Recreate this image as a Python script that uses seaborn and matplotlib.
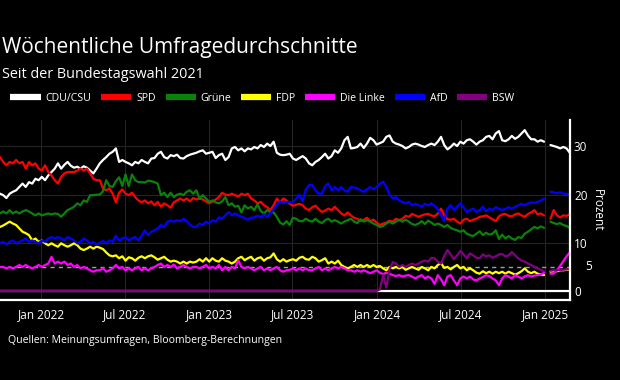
import numpy as np
import pandas as pd
import matplotlib.pyplot as plt
import seaborn as sns
from matplotlib.lines import Line2D

# weekly poll averages since the 2021 federal election (values in percent)
weeks = pd.date_range("2021-10-03", periods=178, freq="7D")
parties = ["CDU/CSU", "SPD", "Grüne", "FDP", "Die Linke", "AfD", "BSW"]
colors = ["#ffffff", "#ff0000", "#0a820a", "#ffff00", "#ff00ff", "#0000ff", "#800080"]
tick_dates = ["2022-01-01", "2022-07-01", "2023-01-01", "2023-07-01",
              "2024-01-01", "2024-07-01", "2025-01-01"]
tick_labels = ["Jan 2022", "Jul 2022", "Jan 2023", "Jul 2023",
               "Jan 2024", "Jul 2024", "Jan 2025"]
nan = np.nan

cdu = [20.2, 19.9, 19.3, 20.2, 20.6, 20.9, 21.6, 22.3, 21.6, 22.6, 22.3, 23.3, 23.0, 23.7, 23.0, 24.0,
       24.7, 25.4, 26.5, 25.4, 26.2, 26.8, 26.0, 25.6, 25.8, 25.4, 25.9, 25.6, 25.0, 24.4, 25.4,
       26.5, 27.2, 27.8, 28.5, 28.9, 29.6, 26.8, 27.2, 26.8, 26.5, 26.1, 26.8, 26.5, 27.2, 26.8,
       26.5, 27.5, 27.6, 28.5, 28.9, 27.8, 27.5, 28.2, 28.0, 28.3, 27.6, 27.5, 28.0, 28.3, 28.5,
       28.7, 29.0, 29.2, 28.5, 28.7, 28.9, 27.6, 28.2, 28.5, 27.2, 27.8, 29.6, 29.9, 29.2, 29.6,
       29.0, 29.6, 29.4, 29.9, 29.6, 30.3, 29.9, 30.6, 30.1, 31.0, 28.7, 28.3, 28.2, 28.3, 28.5,
       27.5, 27.2, 27.6, 28.0, 27.5, 26.5, 26.1, 26.8, 27.2, 27.8, 28.5, 27.5, 28.0, 29.2, 28.7,
       29.6, 31.3, 32.0, 29.6, 29.7, 29.9, 30.6, 29.7, 30.6, 31.8, 31.3, 30.4, 30.7, 31.0,
       32.0, 32.3, 31.0, 30.6, 30.4, 30.1, 29.6, 29.9, 30.4, 30.6, 30.4, 30.1, 29.9, 30.3, 30.6,
       30.3, 31.0, 32.0, 30.3, 29.4, 29.9, 30.6, 30.1, 31.0, 30.6, 31.3, 31.5, 31.0, 30.4, 31.0,
       31.3, 32.0, 32.2, 31.5, 32.7, 33.2, 31.3, 31.1, 31.5, 32.2, 31.6, 32.0, 32.7, 33.4, 32.3,
       31.5, 31.5, 31.0, 31.3, 31.0, nan, 30.3, 30.1, 29.9, 29.6, 29.9, 29.6, 28.7]

spd = [27.8, 26.8, 26.1, 26.8, 26.5, 27.2, 26.5, 26.8, 25.4, 26.8, 26.1, 26.5, 25.4, 25.0, 26.1, 24.7,
       24.0, 23.0, 22.3, 23.7, 24.4, 24.7, 24.7, 24.7, 25.0, 25.4, 25.0, 25.4, 24.4, 23.3, 23.0,
       23.0, 21.3, 20.9, 21.3, 20.2, 18.4, 20.4, 21.1, 20.2, 19.9, 20.4, 19.5, 18.8, 18.4, 18.8,
       18.2, 18.6, 17.8, 18.5, 17.5, 18.2, 17.8, 17.3, 18.4, 18.8, 19.2, 18.8, 19.2, 18.6, 19.3,
       19.0, 19.2, 19.0, 18.6, 18.2, 18.6, 19.0, 19.5, 20.4, 20.0, 19.9, 20.2, 19.9, 19.6, 20.2,
       19.9, 20.2, 19.2, 18.8, 18.2, 18.5, 17.8, 17.4, 16.8, 17.8, 19.2, 18.4, 19.2, 18.8, 18.1,
       17.7, 17.9, 18.1, 17.8, 17.1, 16.8, 17.4, 17.7, 17.0, 16.4, 16.7, 17.1, 16.8, 17.5, 16.8,
       16.1, 15.7, 16.3, 15.7, 15.2, 15.0, 14.5, 14.8, 15.2, 14.5, 14.8, 14.2, 13.7, 14.0,
       14.2, 14.6, 14.4, 15.0, 14.7, 15.0, 15.6, 15.4, 16.0, 15.7, 15.4, 15.7, 15.9, 16.0, 15.7,
       15.5, 16.1, 17.1, 15.7, 14.9, 14.8, 15.0, 14.4, 14.0, 14.8, 15.0, 14.5, 14.8, 15.0, 15.4,
       15.5, 15.7, 15.3, 14.9, 14.5, 15.5, 15.9, 16.0, 15.6, 15.5, 15.9, 16.1, 15.7, 15.4, 16.0,
       16.3, 16.8, 15.9, 16.1, 15.7, nan, 15.0, 16.8, 15.7, 15.3, 15.7, 15.6, 15.9]

gruene = [16.1, 16.5, 16.1, 16.8, 16.1, 16.5, 16.1, 16.5, 16.8, 16.5, 16.1, 15.7, 16.1, 15.7, 15.9, 16.1,
          15.9, 16.1, 16.0, 15.4, 16.1, 16.8, 17.1, 17.5, 18.2, 17.8, 18.8, 18.5, 19.9, 19.9, 20.0,
          20.0, 20.7, 23.0, 21.8, 21.6, 22.8, 23.6, 21.8, 24.2, 21.8, 24.2, 23.0, 22.6, 22.6, 22.5,
          22.9, 22.8, 22.6, 22.3, 19.9, 20.4, 19.5, 20.4, 19.5, 20.0, 20.2, 19.9, 20.6, 20.9, 20.2,
          20.9, 19.2, 19.9, 19.2, 18.5, 18.8, 18.4, 18.2, 18.6, 19.5, 17.8, 18.2, 17.5, 17.7, 16.3,
          17.8, 17.1, 17.5, 16.8, 18.0, 16.6, 16.1, 16.8, 16.4, 16.3, 15.4, 14.2, 13.8, 14.5, 13.7,
          15.2, 15.0, 14.5, 14.5, 15.0, 14.6, 14.4, 15.0, 14.4, 14.1, 14.7, 15.0, 14.4, 14.7, 14.4,
          14.0, 14.4, 14.7, 15.0, 14.4, 14.1, 14.9, 14.4, 14.7, 14.4, 14.0, 13.7, 13.3, 13.5,
          14.0, 14.4, 14.0, 14.4, 14.8, 14.4, 14.8, 14.4, 13.9, 13.7, 14.0, 14.5, 13.9, 14.6, 14.2,
          13.7, 14.0, 13.7, 13.3, 13.7, 13.1, 12.8, 12.6, 12.3, 12.6, 11.9, 11.6, 11.4, 11.9, 12.4,
          11.6, 12.1, 11.7, 11.9, 12.6, 10.8, 11.7, 10.9, 11.4, 10.9, 10.6, 11.2, 11.0, 11.9, 12.3,
          12.8, 13.3, 13.0, 13.4, 13.1, nan, 14.4, 14.1, 13.9, 14.1, 13.7, 13.5, 13.1]

fdp = [13.3, 13.6, 14.0, 14.4, 14.0, 13.7, 13.0, 12.3, 12.0, 11.6, 10.5, 10.9, 10.2, 10.5, 9.9, 9.5,
       9.9, 9.5, 9.2, 9.9, 9.5, 9.2, 9.5, 9.9, 9.5, 8.8, 8.5, 8.8, 9.2, 8.8, 9.2,
       9.0, 8.7, 8.0, 7.4, 7.2, 7.4, 6.8, 7.2, 6.3, 7.0, 6.8, 6.3, 6.9, 7.2, 6.8,
       7.2, 7.4, 7.0, 6.5, 6.8, 7.1, 6.5, 6.1, 6.3, 6.1, 5.7, 6.1, 5.7, 6.1, 5.9,
       6.1, 6.6, 6.1, 6.8, 6.1, 6.8, 6.3, 6.1, 6.8, 6.3, 6.1, 5.7, 6.1, 6.8, 7.1,
       6.4, 6.8, 7.1, 6.3, 6.8, 7.0, 6.3, 6.8, 7.0, 7.8, 6.6, 6.1, 6.6, 6.1, 6.4,
       6.6, 6.3, 6.9, 7.1, 6.6, 6.5, 7.1, 6.8, 6.1, 6.4, 6.8, 5.7, 6.1, 5.7, 6.3,
       5.4, 5.0, 4.7, 5.0, 5.4, 5.0, 5.4, 5.0, 5.4, 5.0, 5.4, 5.0, 5.2, 4.7,
       4.3, 5.0, 4.7, 5.0, 4.7, 5.0, 4.4, 4.7, 5.0, 4.7, 4.4, 5.0, 4.7, 4.3, 5.0,
       4.7, 5.4, 5.8, 4.8, 5.0, 4.5, 5.0, 5.4, 4.7, 5.0, 4.3, 4.7, 4.3, 3.8, 3.6,
       4.1, 3.7, 4.0, 3.6, 4.0, 3.7, 4.0, 3.6, 4.0, 3.7, 3.4, 3.7, 4.1, 4.7, 4.0,
       3.7, 4.0, 3.6, 3.4, 3.3, nan, 4.0, 4.1, 4.1, 4.3, 4.3, 4.4, 4.5]

linke = [5.0, 5.0, 4.7, 5.0, 4.7, 5.0, 5.4, 5.0, 5.4, 5.0, 4.7, 5.0, 5.4, 5.0, 5.4, 5.7,
         7.1, 5.7, 6.1, 5.7, 6.1, 5.4, 5.7, 5.0, 5.4, 4.7, 5.0, 4.7, 4.3, 4.0, 4.3,
         4.3, 4.7, 4.0, 4.3, 4.7, 5.4, 4.7, 5.0, 4.3, 4.7, 4.3, 4.7, 5.0, 4.3, 4.7,
         4.3, 4.7, 5.0, 5.4, 5.7, 5.0, 5.4, 5.0, 5.5, 4.7, 5.0, 5.4, 5.0, 4.7, 5.0,
         5.0, 4.7, 5.0, 5.4, 4.7, 5.0, 4.7, 5.4, 4.3, 5.0, 4.3, 5.0, 4.7, 6.4, 5.0,
         4.7, 5.0, 4.7, 4.3, 4.7, 5.0, 4.3, 4.7, 4.3, 4.7, 5.0, 4.3, 4.0, 4.3, 4.4,
         4.7, 4.3, 4.7, 4.3, 4.7, 4.3, 4.3, 4.7, 5.0, 4.3, 4.7, 4.3, 4.7, 5.0, 4.7,
         5.0, 4.7, 4.3, 4.3, 4.0, 4.3, 4.0, 4.3, 4.0, 3.7, 4.0, 4.3, 3.8, 3.5,
         3.8, 3.6, 3.3, 3.1, 3.3, 3.0, 3.2, 3.3, 3.0, 2.6, 3.0, 3.3, 2.6, 3.0, 2.6,
         1.5, 3.3, 2.4, 1.2, 3.0, 3.3, 2.2, 1.2, 2.6, 3.0, 2.6, 3.0, 2.4, 2.2, 2.6,
         2.9, 3.3, 3.1, 2.6, 2.2, 1.2, 2.6, 3.3, 3.0, 2.6, 3.3, 3.0, 2.6, 3.0, 3.3,
         3.0, 3.2, 3.3, 3.4, 3.8, nan, 3.6, 3.6, 4.3, 5.2, 6.2, 7.2, 8.0]

afd = [9.9, 10.2, 9.7, 10.2, 10.5, 9.9, 10.2, 10.5, 10.9, 10.2, 10.5, 10.2, 9.9, 10.5, 10.2, 10.9,
       11.2, 10.9, 11.2, 10.9, 10.5, 11.2, 10.9, 10.5, 9.9, 10.2, 10.9, 10.5, 9.9, 10.2, 9.6,
       10.0, 10.4, 9.9, 10.5, 10.2, 11.5, 10.5, 10.9, 11.2, 10.5, 10.9, 11.2, 10.5, 11.5, 12.6,
       11.6, 12.3, 12.6, 13.0, 13.7, 13.3, 14.4, 14.6, 14.4, 14.7, 14.5, 15.0, 14.5, 13.8, 13.3,
       13.3, 14.0, 13.7, 14.4, 14.0, 14.7, 14.4, 15.3, 15.0, 15.7, 16.4, 15.7, 16.1, 15.7, 15.4,
       15.2, 14.8, 15.2, 15.3, 15.6, 15.3, 15.9, 15.4, 16.1, 17.0, 17.9, 18.6, 18.2, 18.5, 18.4,
       18.4, 19.2, 20.0, 18.6, 21.1, 22.0, 22.0, 20.9, 20.2, 20.2, 21.8, 22.3, 20.9, 21.6, 20.9,
       21.6, 20.9, 20.6, 21.6, 21.5, 21.3, 20.9, 20.6, 21.1, 21.6, 21.1, 21.6, 22.3, 22.7,
       21.6, 20.0, 19.2, 19.5, 18.8, 18.5, 18.2, 18.5, 17.8, 18.1, 17.8, 17.5, 18.1, 17.8, 18.2,
       17.7, 17.0, 15.7, 14.5, 17.1, 17.8, 16.8, 17.5, 18.2, 17.4, 16.4, 16.8, 17.1, 16.4, 16.8,
       17.5, 16.6, 17.1, 16.8, 17.4, 17.1, 16.8, 17.1, 17.4, 17.1, 17.5, 17.8, 18.1, 17.8, 18.2,
       18.4, 18.3, 18.5, 18.8, 19.2, nan, 20.6, 20.5, 20.3, 20.5, 20.2, 20.2, 20.0]

bsw = [0, 0, 0, 0, 0, 0, 0, 0, 0, 0, 0, 0, 0, 0, 0, 0, 0, 0, 0, 0, 0, 0, 0, 0, 0, 0, 0, 0, 0, 0,
       0, 0, 0, 0, 0, 0, 0, 0, 0, 0, 0, 0, 0, 0, 0, 0, 0, 0, 0, 0, 0, 0, 0, 0, 0, 0, 0, 0, 0, 0,
       0, 0, 0, 0, 0, 0, 0, 0, 0, 0, 0, 0, 0, 0, 0, 0, 0, 0, 0, 0, 0, 0, 0, 0, 0, 0, 0, 0, 0, 0,
       0, 0, 0, 0, 0, 0, 0, 0, 0, 0, 0, 0, 0, 0, 0, 0, 0, 0, 0, 0, 0, 0, 0, 0, 0, 0, 0, 0,
       0.3, 3.3, 0.7, 4.5, 6.0, 5.7, 5.0, 5.4, 5.0, 5.4, 5.7, 5.4, 5.7, 6.1, 6.3, 6.1,
       6.9, 6.8, 6.1, 5.7, 7.3, 8.5, 7.6, 6.6, 7.4, 8.3, 7.6, 6.8, 7.8, 7.4, 6.9, 6.8,
       7.6, 7.2, 7.4, 6.9, 7.2, 7.6, 7.7, 7.2, 7.4, 8.1, 7.4, 6.8, 6.3, 6.1, 5.7,
       5.4, 5.0, 4.7, 4.4, 4.1, nan, 4.2, 4.3, 4.3, 4.4, 4.4, 4.5, 4.6]

values = [cdu, spd, gruene, fdp, linke, afd, bsw]
df = pd.DataFrame({
    "Woche": np.tile(weeks, len(parties)),
    "Partei": np.repeat(parties, len(weeks)),
    "Prozent": np.concatenate([np.array(v, dtype=float) for v in values]),
})
# the week around new year has no value: split each line into two pieces there
gap = df.loc[df["Prozent"].isna(), "Woche"].iloc[0]
df["Abschnitt"] = (df["Woche"] > gap).astype(int)
df = df.dropna()

sns.set_theme(style="dark", rc={"axes.facecolor": "black", "figure.facecolor": "black"})
plt.rcParams["font.family"] = ["Open Sans", "DejaVu Sans"]

fig = plt.figure(figsize=(6.2, 3.8), dpi=100)
ax = fig.add_axes([0.0, 0.2105, 0.919, 0.4737])
ax.set_facecolor("black")

ax.axhline(0, color="white", lw=1.6, zorder=1)
ax.axhline(5, color="#a0a0a0", lw=1.0, ls=(0, (3, 3)), zorder=1)

sns.lineplot(data=df, x="Woche", y="Prozent", hue="Partei", hue_order=parties,
             units="Abschnitt", estimator=None, palette=dict(zip(parties, colors)),
             lw=1.6, legend=False, ax=ax, zorder=2)

ax.set_xlim(weeks[0], weeks[-1])
ax.set_ylim(-1.87, 35.5)
ax.set_xticks(pd.to_datetime(tick_dates))
ax.set_xticklabels(tick_labels)
ax.set_yticks([0, 10, 20, 30])
ax.yaxis.tick_right()
ax.yaxis.set_label_position("right")
ax.set_xlabel("")
ax.set_ylabel("Prozent", rotation=270, color="white", fontsize=8.5, labelpad=12)
ax.tick_params(axis="x", length=0, pad=6, colors="white", labelsize=8.5)
ax.tick_params(axis="y", length=0, pad=3, colors="white", labelsize=8.5)
ax.grid(True, color="#242424", lw=0.8)
ax.annotate("5", xy=(1, 5), xycoords=("axes fraction", "data"), xytext=(11, 0),
            textcoords="offset points", va="center", ha="left", color="white", fontsize=8.5)

for side in ["top", "left"]:
    ax.spines[side].set_visible(False)
for side in ["bottom", "right"]:
    ax.spines[side].set_visible(True)
    ax.spines[side].set_color("white")
    ax.spines[side].set_linewidth(1.6)

fig.text(0.003, 0.874, "Wöchentliche Umfragedurchschnitte", color="white",
         fontsize=15, va="center", ha="left")
fig.text(0.003, 0.803, "Seit der Bundestagswahl 2021", color="white",
         fontsize=10.4, va="center", ha="left")
fig.text(0.013, 0.103, "Quellen: Meinungsumfragen, Bloomberg-Berechnungen", color="white",
         fontsize=7.6, va="center", ha="left")

handles = [Line2D([], [], color=c, lw=4.5, solid_capstyle="butt") for c in colors]
fig.legend(handles, parties, loc="center left", bbox_to_anchor=(0.005, 0.742), ncol=7,
           frameon=False, fontsize=7.6, labelcolor="white", handlelength=2.85,
           handletextpad=0.45, columnspacing=0.95, borderpad=0.2)

fig.savefig("out.png", dpi=100, facecolor="black")
